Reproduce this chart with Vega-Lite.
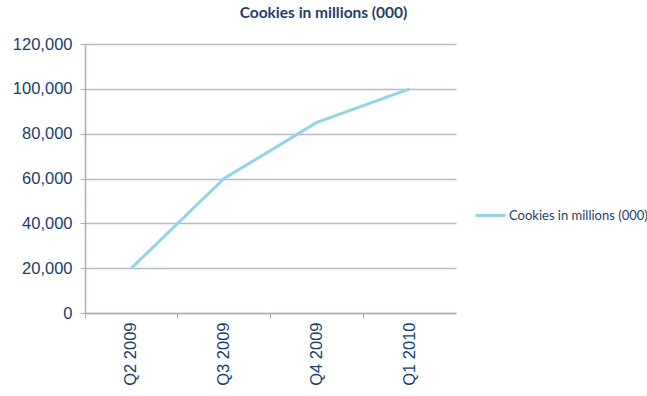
{
  "$schema": "https://vega.github.io/schema/vega-lite/v6.json",
  "autosize": "none",
  "width": 371,
  "height": 269,
  "padding": {"left": 85, "top": 44, "right": 191, "bottom": 83},
  "background": "white",
  "view": {"stroke": null},
  "title": {
    "text": "Cookies in millions (000)",
    "font": "Lato",
    "fontSize": 15.5,
    "fontWeight": "bold",
    "color": "#1F3F6B",
    "anchor": "middle",
    "dx": 53,
    "offset": 15
  },
  "data": {
    "values": [
      {"quarter": "Q2 2009", "value": 20000, "series": "Cookies in millions (000)"},
      {"quarter": "Q3 2009", "value": 60000, "series": "Cookies in millions (000)"},
      {"quarter": "Q4 2009", "value": 85000, "series": "Cookies in millions (000)"},
      {"quarter": "Q1 2010", "value": 100000, "series": "Cookies in millions (000)"}
    ]
  },
  "mark": {"type": "line", "strokeWidth": 3},
  "encoding": {
    "x": {
      "field": "quarter",
      "type": "nominal",
      "sort": null,
      "scale": {"type": "band", "paddingInner": 0, "paddingOuter": 0},
      "axis": {
        "title": null,
        "bandPosition": 0,
        "grid": false,
        "domainColor": "#A9ADBF",
        "domainWidth": 1.5,
        "tickColor": "#A9ADBF",
        "tickSize": 5,
        "labelAngle": -90,
        "labelAlign": "right",
        "labelBaseline": "middle",
        "labelPadding": 4,
        "labelFont": "Liberation Sans",
        "labelFontSize": 16.5,
        "labelColor": "#17406D"
      }
    },
    "y": {
      "field": "value",
      "type": "quantitative",
      "scale": {"domain": [0, 120000], "nice": false},
      "axis": {
        "title": null,
        "values": [0, 20000, 40000, 60000, 80000, 100000, 120000],
        "format": ",.0f",
        "grid": true,
        "gridColor": "#B6BACB",
        "gridWidth": 1.5,
        "domainColor": "#A9ADBF",
        "domainWidth": 1.5,
        "tickColor": "#A9ADBF",
        "tickSize": 5,
        "labelPadding": 8,
        "labelFont": "Liberation Sans",
        "labelFontSize": 16.5,
        "labelColor": "#17406D"
      }
    },
    "color": {
      "field": "series",
      "type": "nominal",
      "scale": {"range": ["#93D4E4"]},
      "legend": {
        "title": null,
        "orient": "none",
        "legendX": 389,
        "legendY": 155,
        "symbolType": "stroke",
        "symbolSize": 900,
        "symbolStrokeWidth": 3,
        "labelFont": "Lato",
        "labelFontSize": 13,
        "labelColor": "#1F3F6B",
        "labelOffset": 2
      }
    }
  }
}
